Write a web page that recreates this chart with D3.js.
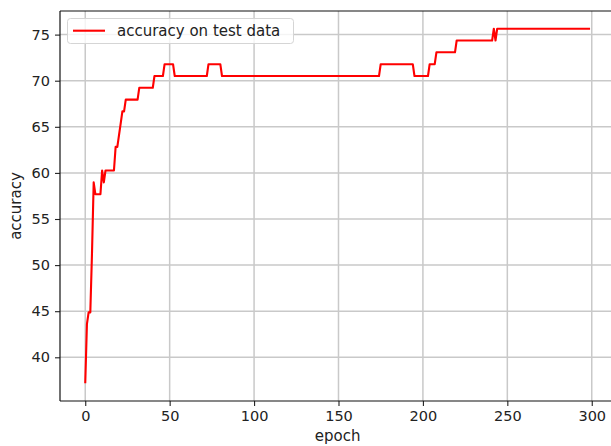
<!DOCTYPE html>
<html>
<head>
<meta charset="utf-8">
<script src="https://cdn.jsdelivr.net/npm/d3@7"></script>
<style>
  body { margin: 0; background: #fff; }
  svg { display: block; overflow: hidden; }
</style>
</head>
<body>
<script>
// epochs where the curve changes (flat runs are given by both ends)
const epochs = [0, 1, 2, 3, 4, 5, 6, 9, 10, 11, 12, 17, 18, 19, 20, 21, 22, 23, 24, 31, 32, 40, 41, 46, 47, 52, 53,
  72, 73, 80, 81, 174, 175, 194, 195, 203, 204, 207, 208, 219, 220, 241, 242, 243, 244, 299];
const accuracy = [37.18, 43.59, 44.87, 44.87, 51.28, 58.97, 57.69, 57.69, 60.26, 58.97, 60.26, 60.26, 62.82, 62.82,
  64.10, 65.38, 66.67, 66.67, 67.95, 67.95, 69.23, 69.23, 70.51, 70.51, 71.79, 71.79, 70.51,
  70.51, 71.79, 71.79, 70.51, 70.51, 71.79, 71.79, 70.51, 70.51, 71.79, 71.79, 73.08, 73.08, 74.36, 74.36, 75.64,
  74.36, 75.64, 75.64];

const xTicks = [0, 50, 100, 150, 200, 250, 300];
const yTicks = [40, 45, 50, 55, 60, 65, 70, 75];
const seriesName = 'accuracy on test data';

const width = 611;
const height = 446;
const font = 'DejaVu Sans, sans-serif';

const svg = d3.select('body')
  .append('svg')
  .attr('width', width)
  .attr('height', height);

// plot box (right edge falls just outside the picture)
const plotLeft = 60, plotRight = 615.3, plotTop = 11, plotBottom = 401;

const x = d3.scaleLinear().domain([-14.95, 313.95]).range([plotLeft, plotRight]);
const y = d3.scaleLinear().domain([35.26, 77.56]).range([plotBottom, plotTop]);

// grid
svg.append('g')
  .selectAll('line')
  .data(xTicks)
  .join('line')
  .attr('x1', d => x(d)).attr('x2', d => x(d))
  .attr('y1', plotTop).attr('y2', plotBottom)
  .attr('stroke', '#c9c9c9')
  .attr('stroke-width', 1.5);

svg.append('g')
  .selectAll('line')
  .data(yTicks)
  .join('line')
  .attr('x1', plotLeft).attr('x2', plotRight)
  .attr('y1', d => y(d)).attr('y2', d => y(d))
  .attr('stroke', '#c9c9c9')
  .attr('stroke-width', 1.5);

// axes
const xAxis = svg.append('g')
  .attr('transform', `translate(0,${plotBottom})`)
  .call(d3.axisBottom(x).tickValues(xTicks).tickSize(5).tickPadding(5));
const yAxis = svg.append('g')
  .attr('transform', `translate(${plotLeft},0)`)
  .call(d3.axisLeft(y).tickValues(yTicks).tickSize(5).tickPadding(5));

[xAxis, yAxis].forEach(a => {
  a.select('.domain').remove();
  a.selectAll('line').attr('stroke', '#222').attr('stroke-width', 1.1);
  a.selectAll('text').attr('font-family', font).attr('font-size', 14.5).attr('fill', '#222');
});

// spines
svg.append('line').attr('x1', plotLeft).attr('x2', plotLeft).attr('y1', plotTop).attr('y2', plotBottom)
  .attr('stroke', '#111').attr('stroke-width', 1.2);
svg.append('line').attr('x1', plotLeft).attr('x2', plotRight).attr('y1', plotTop).attr('y2', plotTop)
  .attr('stroke', '#111').attr('stroke-width', 1.2);
svg.append('line').attr('x1', plotLeft).attr('x2', plotRight).attr('y1', plotBottom).attr('y2', plotBottom)
  .attr('stroke', '#111').attr('stroke-width', 1.2);

// the curve
const points = epochs.map((e, i) => [e, accuracy[i]]);
svg.append('path')
  .datum(points)
  .attr('fill', 'none')
  .attr('stroke', 'red')
  .attr('stroke-width', 2.1)
  .attr('stroke-linejoin', 'round')
  .attr('d', d3.line().x(d => x(d[0])).y(d => y(d[1])));

// labels
svg.append('text')
  .attr('x', (plotLeft + plotRight) / 2)
  .attr('y', 441)
  .attr('text-anchor', 'middle')
  .attr('font-family', font).attr('font-size', 15).attr('fill', '#222')
  .text('epoch');

svg.append('text')
  .attr('transform', `translate(21,${(plotTop + plotBottom) / 2}) rotate(-90)`)
  .attr('text-anchor', 'middle')
  .attr('font-family', font).attr('font-size', 15).attr('fill', '#222')
  .text('accuracy');

// legend
const legend = svg.append('g');
legend.append('rect')
  .attr('x', 67.5).attr('y', 18.5)
  .attr('width', 226).attr('height', 25)
  .attr('rx', 3)
  .attr('fill', 'white').attr('fill-opacity', 0.8)
  .attr('stroke', '#d5d5d5');
legend.append('line')
  .attr('x1', 73).attr('x2', 105)
  .attr('y1', 30.7).attr('y2', 30.7)
  .attr('stroke', 'red').attr('stroke-width', 2.1);
legend.append('text')
  .attr('x', 117).attr('y', 36)
  .attr('font-family', font).attr('font-size', 15).attr('fill', '#222')
  .text(seriesName);
</script>
</body>
</html>
